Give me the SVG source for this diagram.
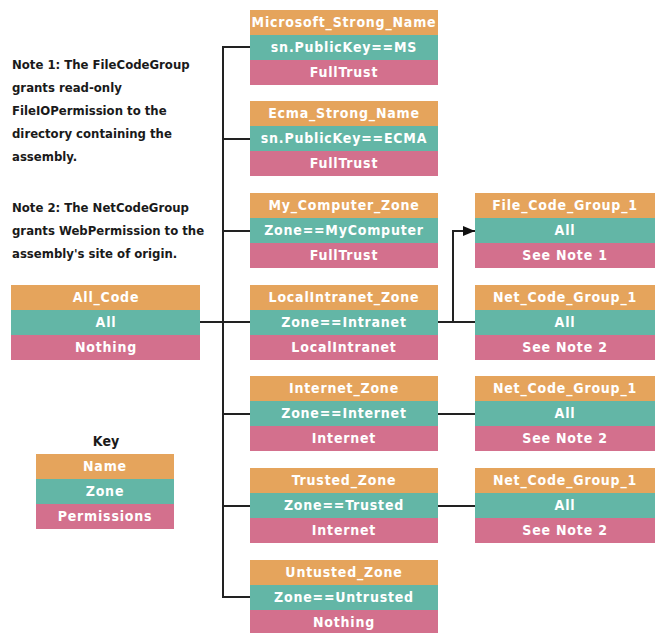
<svg xmlns="http://www.w3.org/2000/svg" width="656" height="633" viewBox="0 0 656 633">
<style>
.o{fill:#E5A45C}.t{fill:#63B6A6}.p{fill:#D3708D}
.bt{font-family:"DejaVu Sans Condensed","Liberation Sans Narrow",sans-serif;font-weight:bold;font-size:14px;fill:#fff;text-anchor:middle;letter-spacing:0.8px}
.nt{font-family:"DejaVu Sans Condensed","Liberation Sans Narrow",sans-serif;font-weight:bold;font-size:13px;fill:#1a1a1a}
.ln{stroke:#222;stroke-width:2;fill:none}
</style>
<defs>
<marker id="ah" markerWidth="12" markerHeight="10" refX="12" refY="5" orient="auto" markerUnits="userSpaceOnUse"><path d="M0,0 L12,5 L0,10 Z" fill="#111"/></marker>
<g id="box"><rect class="o" x="0" y="0" width="188" height="25"/><rect class="t" x="0" y="25" width="188" height="25"/><rect class="p" x="0" y="50" width="188" height="25"/></g>
<g id="rbox"><rect class="o" x="0" y="0" width="180" height="25"/><rect class="t" x="0" y="25" width="180" height="25"/><rect class="p" x="0" y="50" width="180" height="25"/></g>
</defs>
<rect width="656" height="633" fill="#fff"/>
<g id="notes">
<text class="nt" x="12" y="69">Note 1: The FileCodeGroup</text>
<text class="nt" x="12" y="92">grants read-only</text>
<text class="nt" x="12" y="115">FileIOPermission to the</text>
<text class="nt" x="12" y="138">directory containing the</text>
<text class="nt" x="12" y="161">assembly.</text>
<text class="nt" x="12" y="212">Note 2: The NetCodeGroup</text>
<text class="nt" x="12" y="235">grants WebPermission to the</text>
<text class="nt" x="12" y="258">assembly's site of origin.</text>
</g>
<g id="connectors">
<path class="ln" d="M250,47 H223 V597 H250"/>
<path class="ln" d="M223,139 H250 M223,231 H250 M223,322 H250 M223,414 H250 M223,506 H250"/>
<path class="ln" d="M200,322 H223"/>
<path class="ln" d="M438,322 H475"/>
<path class="ln" d="M453,322 V231 H475" marker-end="url(#ah)"/>
<path class="ln" d="M438,414 H475 M438,506 H475"/>
</g>
<g id="all_code"><rect class="o" x="11" y="285" width="189" height="25"/><rect class="t" x="11" y="310" width="189" height="25"/><rect class="p" x="11" y="335" width="189" height="25"/>
<text class="bt" x="106" y="302">All_Code</text><text class="bt" x="106" y="327">All</text><text class="bt" x="106" y="352">Nothing</text></g>
<g id="key"><text x="106" y="446" style="font-family:'DejaVu Sans Condensed',sans-serif;font-weight:bold;font-size:14px;fill:#1a1a1a;text-anchor:middle">Key</text>
<rect class="o" x="36" y="454" width="138" height="25"/><rect class="t" x="36" y="479" width="138" height="25"/><rect class="p" x="36" y="504" width="138" height="25"/>
<text class="bt" x="105" y="471">Name</text><text class="bt" x="105" y="496">Zone</text><text class="bt" x="105" y="521">Permissions</text></g>
<g id="microsoft" transform="translate(250,10)"><use href="#box"/><text class="bt" x="94" y="17">Microsoft_Strong_Name</text><text class="bt" x="94" y="42">sn.PublicKey==MS</text><text class="bt" x="94" y="67">FullTrust</text></g>
<g id="ecma" transform="translate(250,101)"><use href="#box"/><text class="bt" x="94" y="17">Ecma_Strong_Name</text><text class="bt" x="94" y="42">sn.PublicKey==ECMA</text><text class="bt" x="94" y="67">FullTrust</text></g>
<g id="mycomputer" transform="translate(250,193)"><use href="#box"/><text class="bt" x="94" y="17">My_Computer_Zone</text><text class="bt" x="94" y="42">Zone==MyComputer</text><text class="bt" x="94" y="67">FullTrust</text></g>
<g id="intranet" transform="translate(250,285)"><use href="#box"/><text class="bt" x="94" y="17">LocalIntranet_Zone</text><text class="bt" x="94" y="42">Zone==Intranet</text><text class="bt" x="94" y="67">LocalIntranet</text></g>
<g id="internet" transform="translate(250,376)"><use href="#box"/><text class="bt" x="94" y="17">Internet_Zone</text><text class="bt" x="94" y="42">Zone==Internet</text><text class="bt" x="94" y="67">Internet</text></g>
<g id="trusted" transform="translate(250,468)"><use href="#box"/><text class="bt" x="94" y="17">Trusted_Zone</text><text class="bt" x="94" y="42">Zone==Trusted</text><text class="bt" x="94" y="67">Internet</text></g>
<g id="untrusted" transform="translate(250,560)"><use href="#box"/><text class="bt" x="94" y="17">Untusted_Zone</text><text class="bt" x="94" y="42">Zone==Untrusted</text><text class="bt" x="94" y="67">Nothing</text></g>
<g id="filecode1" transform="translate(475,193)"><use href="#rbox"/><text class="bt" x="90" y="17">File_Code_Group_1</text><text class="bt" x="90" y="42">All</text><text class="bt" x="90" y="67">See Note 1</text></g>
<g id="netcode1" transform="translate(475,285)"><use href="#rbox"/><text class="bt" x="90" y="17">Net_Code_Group_1</text><text class="bt" x="90" y="42">All</text><text class="bt" x="90" y="67">See Note 2</text></g>
<g id="netcode2" transform="translate(475,376)"><use href="#rbox"/><text class="bt" x="90" y="17">Net_Code_Group_1</text><text class="bt" x="90" y="42">All</text><text class="bt" x="90" y="67">See Note 2</text></g>
<g id="netcode3" transform="translate(475,468)"><use href="#rbox"/><text class="bt" x="90" y="17">Net_Code_Group_1</text><text class="bt" x="90" y="42">All</text><text class="bt" x="90" y="67">See Note 2</text></g>
</svg>
